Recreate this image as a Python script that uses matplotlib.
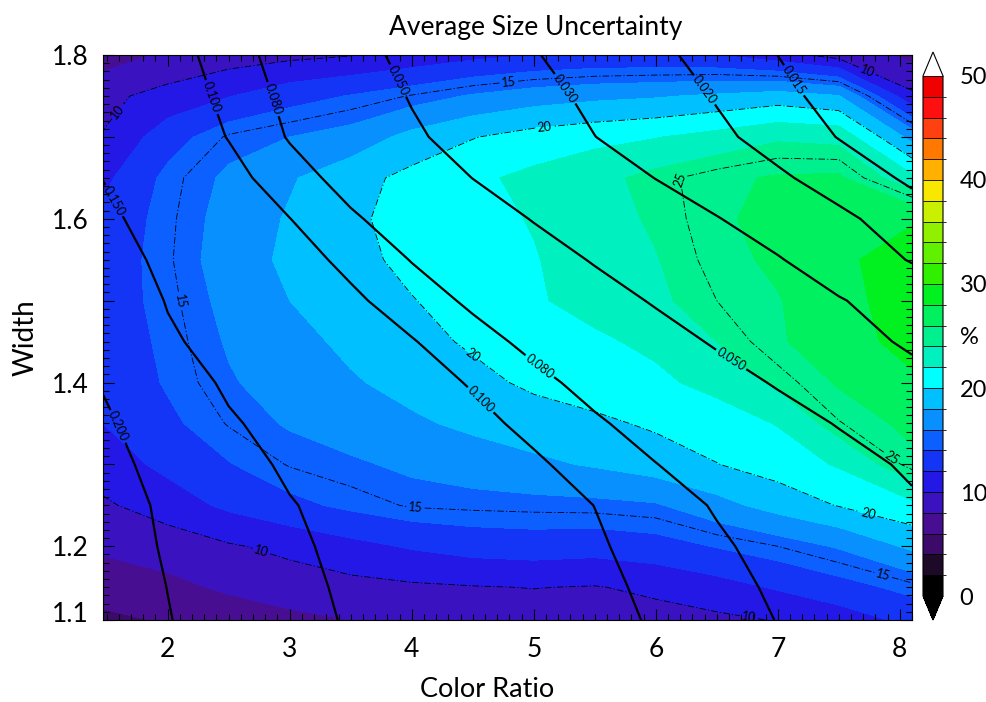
import numpy as np
import matplotlib
matplotlib.use("Agg")
import matplotlib.pyplot as plt
from matplotlib.colors import ListedColormap, BoundaryNorm
from matplotlib.ticker import FixedLocator, FixedFormatter, MultipleLocator
from matplotlib.transforms import ScaledTranslation

plt.rcParams["font.family"] = ["Lato", "DejaVu Sans"]

# Grid of the retrieval study
color_ratio = np.array([1.47, 2.0, 2.5, 3.0, 3.5, 4.0, 4.5, 5.0, 5.5, 6.0, 6.5, 7.0, 7.5, 8.1])
width = np.array([1.11, 1.15, 1.20, 1.25, 1.30, 1.35, 1.40, 1.45, 1.50, 1.55,
                  1.60, 1.65, 1.70, 1.75, 1.80])

# Average size uncertainty (%), one row per width value
uncertainty = np.array([
    [5.5, 6.2, 6.9, 7.5, 8.0, 8.5, 8.8, 9.0, 9.1, 9.3, 9.6, 10.1, 11.0, 12.5],
    [7.0, 7.5, 8.3, 9.0, 9.4, 9.7, 9.9, 10.05, 9.9, 10.4, 11.2, 12.2, 13.2, 14.6],
    [8.3, 8.9, 9.8, 10.5, 11.4, 12.2, 12.8, 13.0, 12.8, 13.2, 14.1, 15.0, 16.2, 18.4],
    [9.7, 11.0, 12.4, 13.5, 14.4, 15.15, 15.3, 15.4, 15.5, 15.8, 17.3, 18.8, 20.1, 21.5],
    [11.0, 12.5, 13.9, 15.1, 15.7, 16.4, 17.0, 17.6, 18.2, 19.0, 19.95, 20.9, 22.2, 25.5],
    [12.0, 13.6, 15.1, 16.2, 17.0, 17.7, 18.4, 19.0, 19.6, 20.3, 21.0, 22.1, 24.9, 26.5],
    [12.5, 14.2, 15.8, 16.9, 17.8, 18.6, 19.4, 20.4, 21.0, 21.6, 22.6, 24.4, 26.2, 27.6],
    [12.8, 14.4, 16.2, 17.4, 18.4, 19.3, 20.3, 21.0, 21.7, 22.4, 24.0, 25.8, 27.0, 28.8],
    [13.0, 14.6, 16.6, 18.0, 19.1, 19.9, 21.0, 21.8, 22.6, 23.6, 25.0, 25.9, 27.2, 29.2],
    [12.8, 14.8, 17.0, 18.4, 19.3, 20.6, 21.3, 21.9, 22.8, 23.9, 25.5, 26.3, 27.6, 29.0],
    [12.5, 14.7, 16.8, 18.2, 19.6, 20.8, 21.5, 22.1, 23.1, 24.3, 25.7, 26.6, 27.3, 27.8],
    [11.5, 14.5, 16.4, 17.8, 19.2, 20.6, 21.6, 22.5, 23.4, 24.6, 25.6, 26.2, 26.3, 22.5],
    [10.1, 13.1, 15.2, 16.0, 16.8, 18.6, 19.9, 20.8, 21.4, 21.9, 22.7, 23.7, 23.4, 17.3],
    [9.5, 10.7, 11.9, 13.2, 14.1, 15.1, 16.2, 17.0, 17.5, 17.8, 18.3, 18.9, 18.1, 10.4],
    [7.0, 8.3, 9.0, 9.5, 9.9, 10.6, 11.4, 12.0, 12.3, 12.3, 12.0, 10.8, 9.2, 7.5],
])

# Mean size parameter, same grid
size_param = np.array([
    [0.2264, 0.2017, 0.1809, 0.1622, 0.1467, 0.1354, 0.1251, 0.1155, 0.1066, 0.0979, 0.0882, 0.0795, 0.0714, 0.0628],
    [0.2248, 0.1995, 0.1783, 0.1594, 0.1446, 0.1335, 0.1232, 0.1137, 0.1050, 0.0958, 0.0861, 0.0772, 0.0692, 0.0607],
    [0.2213, 0.1959, 0.1746, 0.1556, 0.1420, 0.1308, 0.1206, 0.1112, 0.1025, 0.0925, 0.0827, 0.0738, 0.0658, 0.0573],
    [0.2191, 0.1930, 0.1711, 0.1518, 0.1392, 0.1281, 0.1179, 0.1085, 0.0998, 0.0885, 0.0784, 0.0690, 0.0607, 0.0520],
    [0.2138, 0.1856, 0.1624, 0.1450, 0.1331, 0.1223, 0.1123, 0.1031, 0.0918, 0.0804, 0.0710, 0.0628, 0.0555, 0.0478],
    [0.2064, 0.1772, 0.1535, 0.1390, 0.1269, 0.1158, 0.1058, 0.0948, 0.0825, 0.0724, 0.0637, 0.0560, 0.0492, 0.0417],
    [0.1973, 0.1670, 0.1452, 0.1319, 0.1198, 0.1088, 0.0983, 0.0851, 0.0738, 0.0643, 0.0560, 0.0487, 0.0419, 0.0336],
    [0.1866, 0.1542, 0.1388, 0.1250, 0.1125, 0.1013, 0.0872, 0.0750, 0.0649, 0.0562, 0.0484, 0.0409, 0.0346, 0.0283],
    [0.1765, 0.1483, 0.1318, 0.1171, 0.1041, 0.0897, 0.0765, 0.0658, 0.0566, 0.0486, 0.0417, 0.0357, 0.0306, 0.0253],
    [0.1669, 0.1416, 0.1244, 0.1093, 0.0945, 0.0792, 0.0674, 0.0573, 0.0488, 0.0417, 0.0357, 0.0306, 0.0250, 0.0195],
    [0.1578, 0.1340, 0.1159, 0.1003, 0.0828, 0.0694, 0.0584, 0.0492, 0.0419, 0.0357, 0.0304, 0.0254, 0.0212, 0.0171],
    [0.1494, 0.1260, 0.1073, 0.0885, 0.0723, 0.0600, 0.0498, 0.0420, 0.0354, 0.0298, 0.0249, 0.0209, 0.01753, 0.01424],
    [0.1413, 0.1167, 0.0991, 0.0784, 0.0642, 0.0525, 0.0435, 0.0362, 0.0301, 0.0253, 0.0212, 0.01776, 0.01484, 0.01197],
    [0.1336, 0.1135, 0.0946, 0.0742, 0.0601, 0.0489, 0.0404, 0.0334, 0.0278, 0.0233, 0.01955, 0.0162, 0.01343, 0.01076],
    [0.1264, 0.1100, 0.0896, 0.0700, 0.0561, 0.0454, 0.0373, 0.0306, 0.0255, 0.0213, 0.01784, 0.01498, 0.0126, 0.0102],
])

unc_levels = np.arange(0, 52, 2)
band_colors = [
    "#000000", "#1c0a28", "#3c0a68", "#480e92", "#3a12c0",
    "#2418e6", "#1434f6", "#0c60ff", "#0890ff", "#00c0ff",
    "#00ffff", "#00f0c0", "#00f090", "#00f060", "#00f020",
    "#30f000", "#60f000", "#90f000", "#c8f000", "#f8e800",
    "#ffb000", "#ff7800", "#ff4010", "#ff1010", "#f00000",
]
dashed_levels = [10, 15, 20, 25]
size_levels = [0.015, 0.020, 0.030, 0.050, 0.080, 0.100, 0.150, 0.200]
cbar_ticks = [0, 10, 20, 25, 30, 40, 50]
cbar_labels = ["0", "10", "20", "%", "30", "40", "50"]

W, H = 987, 702
fig = plt.figure(figsize=(W / 100, H / 100), dpi=100)
ax = fig.add_axes([103 / W, 1 - 620 / H, (912 - 103) / W, (620 - 55) / H])

cmap = ListedColormap(band_colors)
cmap.set_under("black")
cmap.set_over("white")
norm = BoundaryNorm(unc_levels, cmap.N)

X, Y = np.meshgrid(color_ratio, width)
cf = ax.contourf(X, Y, uncertainty, levels=unc_levels, cmap=cmap, norm=norm,
                 extend="both", antialiased=False)

cs = ax.contour(X, Y, uncertainty, levels=dashed_levels, colors="k",
                linewidths=0.6, linestyles=[(0, (8, 2.5, 1.5, 2.5))])
ax.clabel(cs, fmt="%d", fontsize=9, inline=True, inline_spacing=2,
          manual=[(1.55, 1.736), (2.76, 1.19), (6.77, 1.12), (7.76, 1.79),
                  (2.13, 1.50), (4.79, 1.773), (4.03, 1.244), (7.86, 1.163),
                  (4.45, 1.424), (5.08, 1.718), (7.73, 1.232),
                  (6.09, 1.645), (7.9, 1.302)])

ws = ax.contour(X, Y, size_param, levels=size_levels, colors="k", linewidths=1.6)
ax.clabel(ws, fmt="%.3f", fontsize=9, inline=True, inline_spacing=2,
          manual=[(1.585, 1.346), (1.57, 1.623), (2.37, 1.749), (4.585, 1.382),
                  (2.84, 1.745), (5.04, 1.418), (3.85, 1.766), (6.63, 1.431),
                  (5.24, 1.757), (6.36, 1.753), (7.1, 1.766)])

ax.set_xlim(1.47, 8.1)
ax.set_ylim(1.11, 1.80)
ax.xaxis.set_major_locator(FixedLocator([2, 3, 4, 5, 6, 7, 8]))
ax.xaxis.set_minor_locator(MultipleLocator(0.1))
ax.yaxis.set_major_locator(FixedLocator([1.11, 1.2, 1.3, 1.4, 1.5, 1.6, 1.7, 1.8]))
ax.yaxis.set_major_formatter(FixedFormatter(["1.1", "1.2", "", "1.4", "", "1.6", "", "1.8"]))
ax.yaxis.set_minor_locator(MultipleLocator(0.01))
ax.tick_params(which="both", direction="in", top=True, right=True, width=0.8, labelsize=19)
ax.tick_params(which="major", length=8)
ax.tick_params(which="minor", length=4)
ax.tick_params(axis="x", pad=12)
ax.tick_params(axis="y", pad=10)
for s in ax.spines.values():
    s.set_linewidth(0.8)

# lift the bottom width label slightly off the lower frame
fig.canvas.draw()
bottom_label = ax.yaxis.get_majorticklabels()[0]
bottom_label.set_transform(bottom_label.get_transform()
                           + ScaledTranslation(0, 8 / 100, fig.dpi_scale_trans))

ax.set_xlabel("Color Ratio", fontsize=19.5, labelpad=11)
ax.xaxis.label.set_x((487 - 103) / (912 - 103))
ax.set_ylabel("Width", fontsize=20, labelpad=10)
fig.text(536 / W, 1 - 28 / H, "Average Size Uncertainty", fontsize=19,
         ha="center", va="center")

cax = fig.add_axes([923 / W, 1 - 620 / H, 20 / W, 568 / H])
cb = fig.colorbar(cf, cax=cax, extend="both", extendfrac=0.046,
                  drawedges=True, ticks=cbar_ticks)
cb.ax.set_yticklabels(cbar_labels)
cb.ax.tick_params(length=0, labelsize=17, pad=12)
cb.outline.set_linewidth(0.8)
cb.dividers.set_linewidth(0.6)

fig.savefig("out.png", dpi=100)
